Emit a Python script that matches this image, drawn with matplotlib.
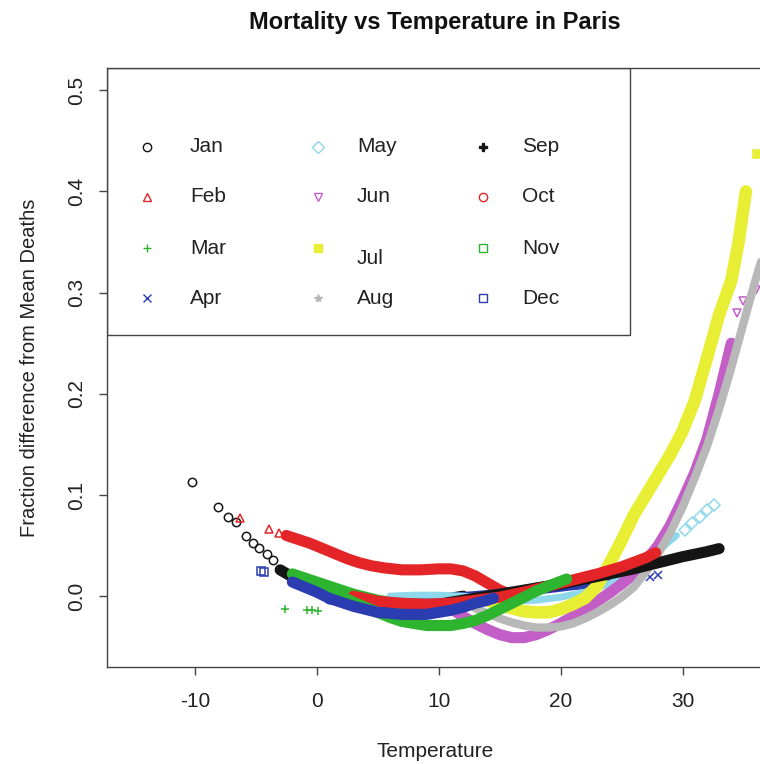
import matplotlib
matplotlib.use("Agg")
import matplotlib.pyplot as plt
from matplotlib.patches import Rectangle

plt.rcParams['font.family'] = ['Liberation Sans', 'DejaVu Sans']

months = ['Jan', 'Feb', 'Mar', 'Apr', 'May', 'Jun',
          'Jul', 'Aug', 'Sep', 'Oct', 'Nov', 'Dec']

# smoothed curves: dense part (band) and sparse tail points, per month
jan_band_t = [-3, -2, -1, 0, 1, 2, 3, 4, 5, 6, 7, 8, 9, 10, 11, 12]
jan_band_v = [0.026, 0.019, 0.013, 0.008, 0.004, 0.0, -0.003, -0.006, -0.008,
              -0.009, -0.009, -0.008, -0.006, -0.004, -0.002, 0.0]
jan_pts_t = [-10.2, -8.1, -7.3, -6.6, -5.8, -5.2, -4.7, -4.1, -3.6]
jan_pts_v = [0.113, 0.088, 0.078, 0.073, 0.059, 0.053, 0.048, 0.042, 0.036]

feb_band_t = [-2.5, -1.5, -0.5, 0.5, 1.5, 2.5, 3.5, 4.5, 5.5, 7, 8.5, 10, 11,
              12, 13, 14, 15, 16]
feb_band_v = [0.060, 0.056, 0.052, 0.047, 0.042, 0.037, 0.033, 0.030, 0.028,
              0.026, 0.026, 0.027, 0.027, 0.025, 0.020, 0.013, 0.006, 0.001]
feb_pts_t = [-6.3, -3.9, -3.1]
feb_pts_v = [0.077, 0.066, 0.062]

mar_band_t = [-2, -1, 0, 1, 2, 3, 4, 5, 6, 7, 8, 9, 10, 11, 12, 13, 14, 15,
              16, 17, 18, 19, 20]
mar_band_v = [0.022, 0.018, 0.014, 0.010, 0.006, 0.002, -0.001, -0.004, -0.006,
              -0.008, -0.010, -0.010, -0.010, -0.009, -0.007, -0.005, -0.002,
              0.000, 0.003, 0.005, 0.008, 0.010, 0.013]
mar_pts_t = [-2.6, -0.8, -0.4, 0.1]
mar_pts_v = [-0.013, -0.014, -0.014, -0.015]

apr_band_t = [1, 3, 5, 7, 9, 11, 13, 15, 17, 19, 21, 23, 25]
apr_band_v = [-0.004, -0.007, -0.008, -0.006, -0.003, -0.001, 0.001, 0.003,
              0.005, 0.007, 0.010, 0.012, 0.015]
apr_pts_t = [26.2, 27.3, 28.0]
apr_pts_v = [0.016, 0.019, 0.021]

may_band_t = [6, 8, 10, 12, 14, 16, 18, 20, 22, 24, 26, 28, 29.5]
may_band_v = [0.0, 0.001, 0.001, 0.0, -0.003, -0.005, -0.004, -0.001, 0.004,
              0.012, 0.025, 0.045, 0.060]
may_pts_t = [30.2, 30.8, 31.4, 32.0, 32.6]
may_pts_v = [0.065, 0.072, 0.078, 0.085, 0.090]

jun_band_t = [11, 12, 13, 14, 15, 16, 17, 18, 19, 20, 21, 22, 23, 24, 25, 26,
              27, 28, 29, 30, 31, 32, 33, 34]
jun_band_v = [-0.012, -0.020, -0.027, -0.033, -0.038, -0.041, -0.041, -0.038,
              -0.033, -0.027, -0.020, -0.013, -0.005, 0.003, 0.012, 0.022,
              0.035, 0.050, 0.070, 0.095, 0.122, 0.155, 0.200, 0.250]
jun_pts_t = [34.5, 35.0, 36.0]
jun_pts_v = [0.280, 0.292, 0.303]

jul_band_t = [14, 15, 16, 17, 18, 19, 20, 21, 22, 23, 24, 25, 26, 27, 28, 29,
              30, 31, 32, 33, 34, 34.6, 35.2]
jul_band_v = [-0.004, -0.009, -0.012, -0.015, -0.016, -0.016, -0.013, -0.008,
              -0.002, 0.010, 0.032, 0.055, 0.080, 0.100, 0.120, 0.140, 0.163,
              0.193, 0.235, 0.278, 0.312, 0.350, 0.400]
jul_pts_t = [36.1]
jul_pts_v = [0.437]

aug_band_t = [13, 14, 15, 16, 17, 18, 19, 20, 21, 22, 23, 24, 25, 26, 27, 28,
              29, 30, 31, 32, 33, 34, 35, 36, 36.8]
aug_band_v = [-0.012, -0.017, -0.022, -0.026, -0.029, -0.031, -0.031, -0.030,
              -0.027, -0.022, -0.016, -0.009, -0.001, 0.009, 0.024, 0.042,
              0.063, 0.088, 0.117, 0.148, 0.185, 0.226, 0.270, 0.313, 0.345]
aug_pts_t = []
aug_pts_v = []

sep_band_t = [10, 12, 14, 16, 18, 20, 22, 24, 26, 28, 30, 32, 33]
sep_band_v = [-0.008, -0.004, 0.0, 0.004, 0.008, 0.012, 0.017, 0.022, 0.027,
              0.033, 0.039, 0.044, 0.047]
sep_pts_t = []
sep_pts_v = []

oct_band_t = [3, 5, 7, 9, 11, 13, 15, 17, 19, 21, 23, 25, 27, 27.8]
oct_band_v = [0.0, -0.005, -0.007, -0.008, -0.007, -0.004, -0.001, 0.004, 0.010,
              0.016, 0.022, 0.029, 0.038, 0.043]
oct_pts_t = []
oct_pts_v = []

nov_band_t = [-1, 0, 1, 2, 3, 4, 5, 6, 7, 8, 9, 10, 11, 12, 13, 14, 15, 16,
              17, 18, 19, 20.5]
nov_band_v = [0.016, 0.011, 0.006, 0.000, -0.006, -0.011, -0.016, -0.021,
              -0.025, -0.027, -0.029, -0.029, -0.029, -0.027, -0.024, -0.019,
              -0.013, -0.007, -0.001, 0.005, 0.010, 0.017]
nov_pts_t = []
nov_pts_v = []

dec_band_t = [-2, -1, 0, 1, 2, 3, 4, 5, 6, 7, 8, 9, 10, 11, 12, 13, 14, 14.5]
dec_band_v = [0.014, 0.009, 0.004, -0.002, -0.006, -0.010, -0.013, -0.016,
              -0.017, -0.018, -0.018, -0.018, -0.016, -0.014, -0.011, -0.007,
              -0.004, -0.002]
dec_pts_t = [-4.6, -4.3]
dec_pts_v = [0.025, 0.024]

bands_t = [jan_band_t, feb_band_t, mar_band_t, apr_band_t, may_band_t, jun_band_t,
           jul_band_t, aug_band_t, sep_band_t, oct_band_t, nov_band_t, dec_band_t]
bands_v = [jan_band_v, feb_band_v, mar_band_v, apr_band_v, may_band_v, jun_band_v,
           jul_band_v, aug_band_v, sep_band_v, oct_band_v, nov_band_v, dec_band_v]
pts_t = [jan_pts_t, feb_pts_t, mar_pts_t, apr_pts_t, may_pts_t, jun_pts_t,
         jul_pts_t, aug_pts_t, sep_pts_t, oct_pts_t, nov_pts_t, dec_pts_t]
pts_v = [jan_pts_v, feb_pts_v, mar_pts_v, apr_pts_v, may_pts_v, jun_pts_v,
         jul_pts_v, aug_pts_v, sep_pts_v, oct_pts_v, nov_pts_v, dec_pts_v]

colors = ['#151515', '#e32527', '#2db52f', '#2b3cb0', '#8ed8ec', '#c35ec7',
          '#e8ee33', '#b8b8b8', '#151515', '#e32527', '#2db52f', '#2b3cb0']
markers = ['o', '^', '+', 'x', 'D', 'v', 's', '*', 'P', 'o', 's', 's']
filled = [False, False, True, True, False, False, True, True, True, False, False, False]
widths = [8, 8, 8, 6, 5, 8, 9, 6, 8, 8, 8, 8]

fig = plt.figure(figsize=(7.6, 7.64), dpi=100)
ax = fig.add_axes([107 / 760, 97 / 764, 656 / 760, 599 / 764])
ax.set_xlim(-17.2, 36.6)
ax.set_ylim(-0.070, 0.522)

for i in range(12):
    c = colors[i]
    ax.plot(bands_t[i], bands_v[i], color=c, lw=widths[i], solid_capstyle='round',
            solid_joinstyle='round', zorder=2 + i)
    if pts_t[i]:
        ax.plot(pts_t[i], pts_v[i], ls='none', marker=markers[i], ms=6,
                mfc=c if filled[i] else 'none', mec=c, mew=1.1, zorder=2 + i)

# legend box in the top-left corner
leg_w, leg_h = (630 - 107) / 656, (335 - 68) / 599
ax.add_patch(Rectangle((0, 1 - leg_h), leg_w, leg_h, transform=ax.transAxes,
                       fill=False, ec='#444444', lw=1.0, zorder=20))
sym_px = [147, 318, 483]
lab_px = [190, 357, 522]
row_py = [147, 197, 248, 298]
for i, m in enumerate(months):
    col, row = i // 4, i % 4
    sx = (sym_px[col] - 107) / 656
    lx = (lab_px[col] - 107) / 656
    yy = 1 - (row_py[row] - 68) / 599
    ly = yy - (10 / 599 if m == 'Jul' else 0)
    c = colors[i]
    ax.plot([sx], [yy], transform=ax.transAxes, ls='none', marker=markers[i], ms=6,
            mfc=c if filled[i] else 'none', mec=c, mew=1.0, zorder=21, clip_on=False)
    ax.text(lx, ly, m, transform=ax.transAxes, fontsize=15, va='center', ha='left',
            color='#222222', zorder=21)

for s in ax.spines.values():
    s.set_color('#444444')
    s.set_linewidth(1.0)
ax.set_xticks([-10, 0, 10, 20, 30])
ax.set_xticklabels(['-10', '0', '10', '20', '30'])
ax.set_yticks([0.0, 0.1, 0.2, 0.3, 0.4, 0.5])
ax.set_yticklabels(['0.0', '0.1', '0.2', '0.3', '0.4', '0.5'], rotation=90, va='center')
ax.tick_params(direction='out', length=6, width=1, color='#444444',
               labelsize=15, labelcolor='#222222')
ax.tick_params(axis='x', pad=12)
ax.tick_params(axis='y', pad=9)

ax.set_xlabel('Temperature', fontsize=15, color='#222222', labelpad=22)
ax.set_ylabel('Fraction difference from Mean Deaths', fontsize=14.5, color='#222222',
              labelpad=20)
fig.text(435 / 760, 1 - 22 / 764, 'Mortality vs Temperature in Paris', ha='center',
         va='center', fontsize=17, fontweight='bold', color='#111111')

fig.savefig('out.png', dpi=100)
